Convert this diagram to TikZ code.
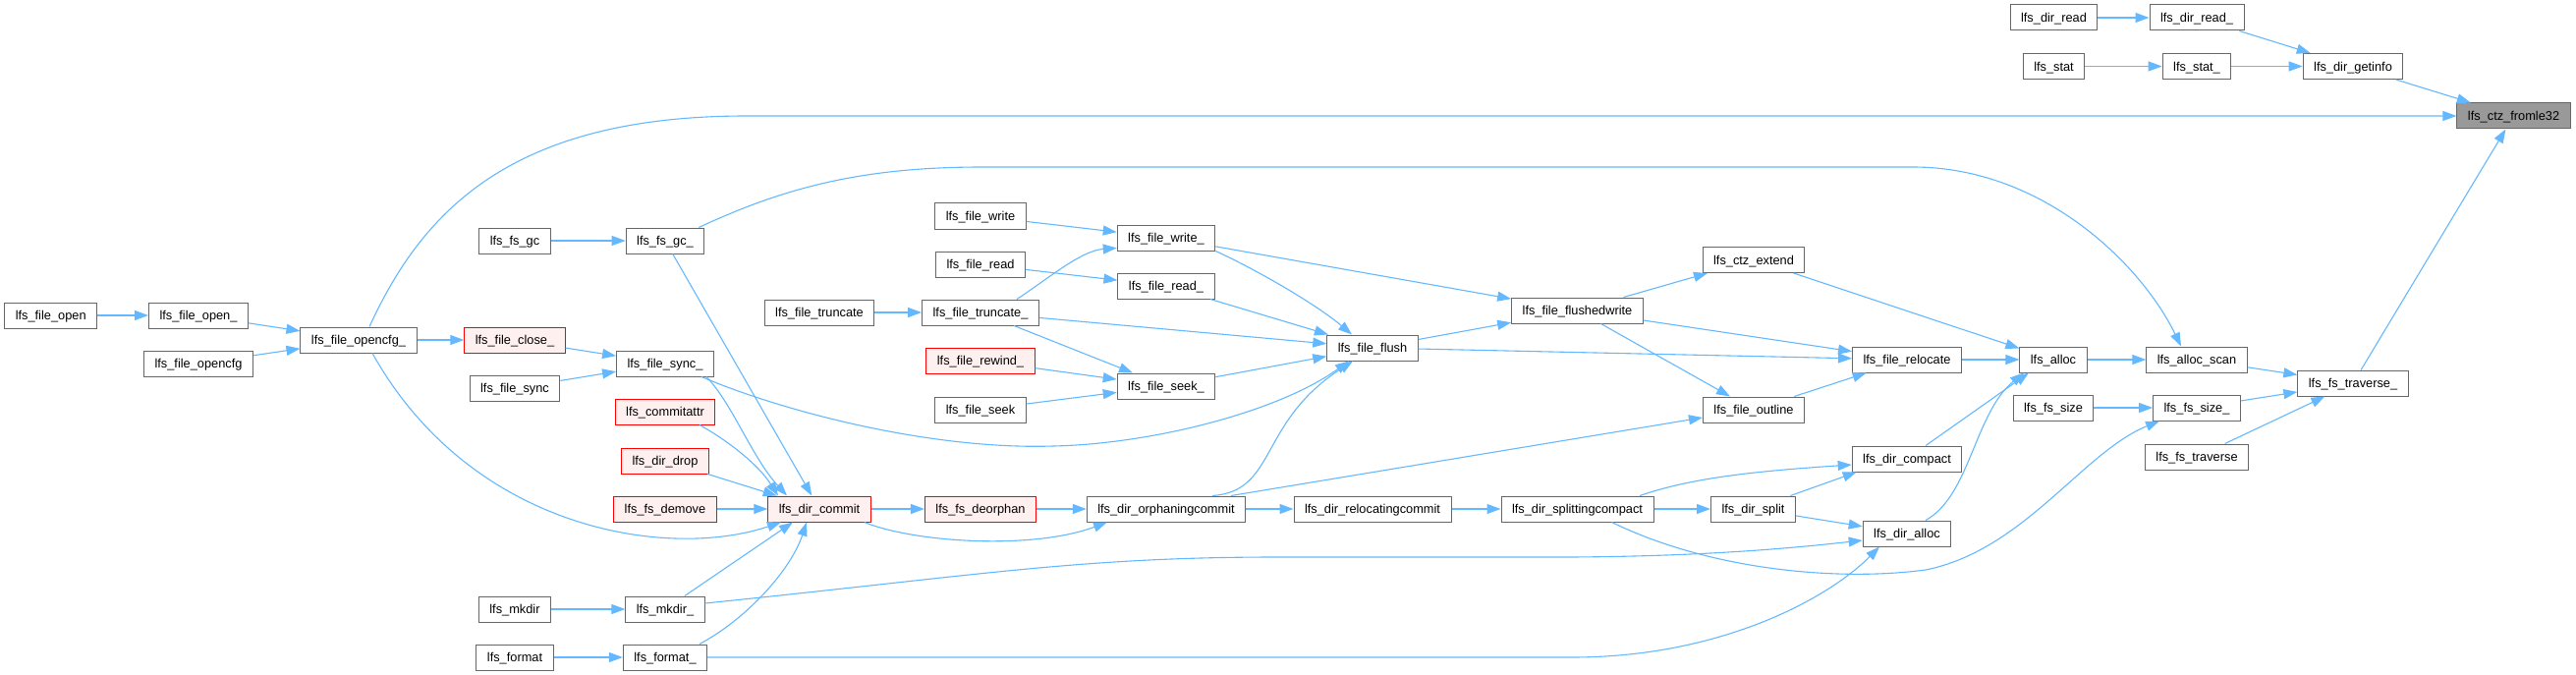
\documentclass[tikz,border=0pt]{standalone}
\usepackage{fontspec}
\setmainfont{Liberation Sans}
\usepackage{tikz}
\usetikzlibrary{arrows.meta}
\definecolor{edgeblue}{HTML}{63B8FF}
\definecolor{boxline}{HTML}{666666}
\definecolor{rootfill}{HTML}{999999}
\definecolor{redfill}{HTML}{FFF0F0}
\definecolor{redline}{HTML}{FF0000}
\tikzset{
  fn/.style={draw=boxline,line width=1pt,fill=white,font=\fontsize{12.8}{15}\selectfont,
    minimum height=26pt,inner xsep=11pt,inner ysep=0pt,text height=9.4pt,text depth=0pt},
  fnred/.style={fn,draw=redline,fill=redfill},
  fnroot/.style={fn,fill=rootfill},
  call/.style={-{Triangle[length=14pt,width=10pt]},draw=edgeblue,line width=1.1pt},
}
\begin{document}
\begin{tikzpicture}[x=1pt,y=-1pt]
  \useasboundingbox (0,0) rectangle (2622,687);
  \node[fn] (dirread) at (2090.5,18) {lfs\_dir\_read};
  \node[fn] (dirreadx) at (2236,18) {lfs\_dir\_read\_};
  \node[fn] (stat) at (2090.5,67.5) {lfs\_stat};
  \node[fn] (statx) at (2236,67.5) {lfs\_stat\_};
  \node[fn] (getinfo) at (2395,67.5) {lfs\_dir\_getinfo};
  \node[fnroot] (ctz) at (2558.5,118) {lfs\_ctz\_fromle32};
  \node[fn] (fsgc) at (524,245) {lfs\_fs\_gc};
  \node[fn] (fsgcx) at (677,245) {lfs\_fs\_gc\_};
  \node[fn] (fwrite) at (998,220) {lfs\_file\_write};
  \node[fn] (fwritex) at (1187,242) {lfs\_file\_write\_};
  \node[fn] (fread) at (998,269) {lfs\_file\_read};
  \node[fn] (freadx) at (1187,291) {lfs\_file\_read\_};
  \node[fn] (ctzext) at (1785,264.5) {lfs\_ctz\_extend};
  \node[fn] (fopen) at (51.7,321) {lfs\_file\_open};
  \node[fn] (fopenx) at (202,321) {lfs\_file\_open\_};
  \node[fn] (opencfg) at (202,370) {lfs\_file\_opencfg};
  \node[fn] (opencfgx) at (365,346) {lfs\_file\_opencfg\_};
  \node[fnred] (fclose) at (524,346) {lfs\_file\_close\_};
  \node[fn] (fsync) at (524,395) {lfs\_file\_sync};
  \node[fn] (fsyncx) at (677,370) {lfs\_file\_sync\_};
  \node[fnred] (commitattr) at (677,419) {lfs\_commitattr};
  \node[fnred] (dirdrop) at (677,469) {lfs\_dir\_drop};
  \node[fnred] (demove) at (677,518) {lfs\_fs\_demove};
  \node[fnred] (commit) at (834,518) {lfs\_dir\_commit};
  \node[fn] (mkdir) at (524,620) {lfs\_mkdir};
  \node[fn] (mkdirx) at (677,620) {lfs\_mkdir\_};
  \node[fn] (format) at (524,669) {lfs\_format};
  \node[fn] (formatx) at (677,669) {lfs\_format\_};
  \node[fn] (ftrunc) at (834,318) {lfs\_file\_truncate};
  \node[fn] (ftruncx) at (998,318) {lfs\_file\_truncate\_};
  \node[fnred] (frewind) at (998,367) {lfs\_file\_rewind\_};
  \node[fn] (fseek) at (998,417) {lfs\_file\_seek};
  \node[fn] (fseekx) at (1187,393) {lfs\_file\_seek\_};
  \node[fn] (flush) at (1397,354) {lfs\_file\_flush};
  \node[fn] (flushed) at (1605.5,316) {lfs\_file\_flushedwrite};
  \node[fn] (outline) at (1785,417) {lfs\_file\_outline};
  \node[fnred] (deorphan) at (998,518) {lfs\_fs\_deorphan};
  \node[fn] (orphan) at (1187,518) {lfs\_dir\_orphaningcommit};
  \node[fn] (relocating) at (1397,518) {lfs\_dir\_relocatingcommit};
  \node[fn] (splitting) at (1605.5,518) {lfs\_dir\_splittingcompact};
  \node[fn] (dirsplit) at (1784.5,518) {lfs\_dir\_split};
  \node[fn] (frelocate) at (1941,366) {lfs\_file\_relocate};
  \node[fn] (dircompact) at (1941,467) {lfs\_dir\_compact};
  \node[fn] (diralloc) at (1941,543) {lfs\_dir\_alloc};
  \node[fn] (alloc) at (2090,366) {lfs\_alloc};
  \node[fn] (allocscan) at (2236,366) {lfs\_alloc\_scan};
  \node[fn] (fssize) at (2090,415) {lfs\_fs\_size};
  \node[fn] (fssizex) at (2236,415) {lfs\_fs\_size\_};
  \node[fn] (travx) at (2395,390) {lfs\_fs\_traverse\_};
  \node[fn] (trav) at (2236,465) {lfs\_fs\_traverse};
  \draw[call] (dirread)--(dirreadx); \draw[call] (dirreadx)--(getinfo);
  \draw[call] (stat)--(statx); \draw[call] (statx)--(getinfo); \draw[call] (getinfo)--(ctz);
  \draw[call] ([xshift=11pt]opencfgx.north) .. controls (430,215) and (520,118) .. (760,118) -- (ctz.west);
  \draw[call] (travx)--(ctz);
  \draw[call] ([xshift=-6pt]fsgcx.north east) .. controls (800,190) and (880,170) .. (1000,170) -- (1947,170)
    .. controls (2080,170) and (2180,270) .. ([xshift=-16pt]allocscan.north);
  \draw[call] (fsgc)--(fsgcx); \draw[call] (fsgcx)--(commit);
  \draw[call] (fopen)--(fopenx); \draw[call] (fopenx)--(opencfgx); \draw[call] (opencfg)--(opencfgx);
  \draw[call] (opencfgx)--(fclose);
  \draw[call] ([xshift=14pt]opencfgx.south) .. controls (480,540) and (680,570) .. ([xshift=-39pt]commit.south);
  \draw[call] (fclose)--(fsyncx); \draw[call] (fsync)--(fsyncx);
  \draw[call] ([xshift=42pt]fsyncx.south) .. controls (745,410) and (765,465) .. ([xshift=-33pt]commit.north);
  \draw[call] ([xshift=37pt]fsyncx.south) .. controls (800,420) and (950,458) .. (1072,454)
    .. controls (1170,452) and (1300,420) .. ([xshift=-24pt]flush.south);
  \draw[call] ([xshift=35pt]commitattr.south) .. controls (735,445) and (770,470) .. ([xshift=-42pt]commit.north);
  \draw[call] (dirdrop)--(commit); \draw[call] (demove)--(commit);
  \draw[call] (mkdir)--(mkdirx); \draw[call] (mkdirx)--([xshift=-27pt]commit.south);
  \draw[call] ([yshift=6pt]mkdirx.east) .. controls (1000,585) and (1100,567) .. (1300,567) -- (1600,567)
    .. controls (1750,566) and (1840,556) .. ([yshift=-7pt]diralloc.west);
  \draw[call] (format)--(formatx);
  \draw[call] ([xshift=35pt]formatx.north) .. controls (760,630) and (805,580) .. ([xshift=-13pt]commit.south);
  \draw[call] (formatx) -- (1600,669) .. controls (1750,669) and (1860,610) .. ([xshift=-28pt]diralloc.south);
  \draw[call] (ftrunc)--(ftruncx);
  \draw[call] ([xshift=37pt]ftruncx.north) .. controls (1065,285) and (1100,255) .. ([yshift=3pt]fwritex.south west);
  \draw[call] (ftruncx)--(flush); \draw[call] (ftruncx)--(fseekx);
  \draw[call] (fwrite)--(fwritex); \draw[call] (fwritex)--(flushed);
  \draw[call] (fwritex.south east) .. controls (1280,275) and (1340,310) .. ([xshift=-21pt]flush.north);
  \draw[call] (fread)--(freadx); \draw[call] (freadx)--(flush);
  \draw[call] (frewind)--(fseekx); \draw[call] (fseek)--(fseekx); \draw[call] (fseekx)--(flush);
  \draw[call] (flush)--(flushed); \draw[call] (flush)--(frelocate);
  \draw[call] (flushed)--(ctzext); \draw[call] (flushed)--(frelocate); \draw[call] (flushed)--(outline);
  \draw[call] (commit)--(deorphan);
  \draw[call] ([xshift=-7pt]commit.south east) .. controls (930,552) and (1050,560) .. ([xshift=-60pt]orphan.south);
  \draw[call] (deorphan)--(orphan);
  \draw[call] ([xshift=47pt]orphan.north) .. controls (1300,500) and (1280,430) .. ([xshift=-20pt]flush.south);
  \draw[call] ([xshift=66pt]orphan.north) -- ([yshift=-8pt]outline.west);
  \draw[call] (orphan)--(relocating); \draw[call] (relocating)--(splitting);
  \draw[call] ([xshift=63.5pt]splitting.north) .. controls (1720,487) and (1780,480) .. ([yshift=-6pt]dircompact.west);
  \draw[call] (splitting)--(dirsplit);
  \draw[call] ([xshift=35pt]splitting.south) .. controls (1740,580) and (1870,592) .. (1960,580)
    .. controls (2060,560) and (2120,460) .. ([xshift=7pt]fssizex.south west);
  \draw[call] (dirsplit)--([xshift=5pt]dircompact.south west); \draw[call] (dirsplit)--(diralloc);
  \draw[call] (dircompact)--([xshift=-25pt]alloc.south);
  \draw[call] ([xshift=19pt]diralloc.north) .. controls (2005,505) and (2010,420) .. ([xshift=-30pt]alloc.south);
  \draw[call] (outline)--(frelocate); \draw[call] (frelocate)--(alloc); \draw[call] (ctzext)--(alloc);
  \draw[call] (alloc)--(allocscan); \draw[call] (allocscan)--(travx);
  \draw[call] (fssize)--(fssizex); \draw[call] (fssizex)--(travx); \draw[call] (trav)--(travx);
\end{tikzpicture}
\end{document}
